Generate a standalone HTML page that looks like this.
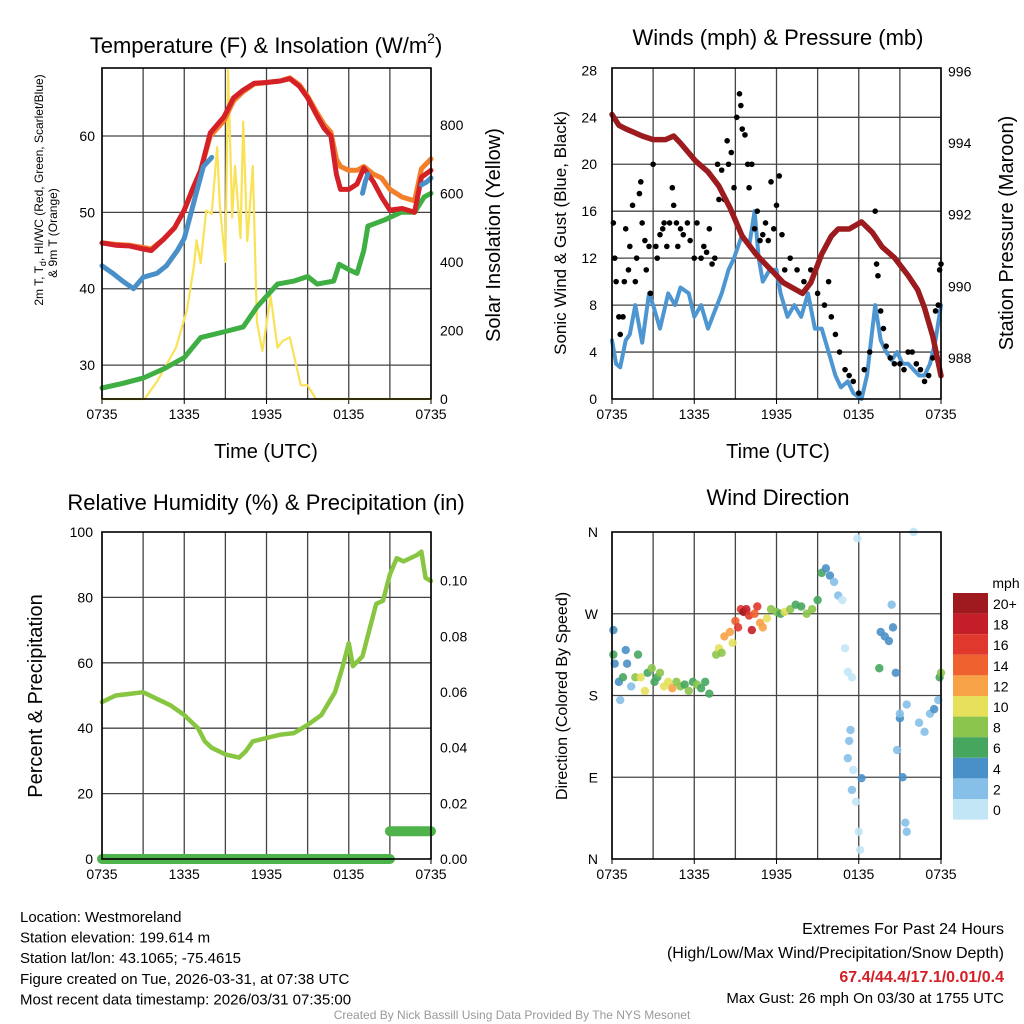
<!DOCTYPE html>
<html><head><meta charset="utf-8"><style>
body{margin:0;background:#fff;}
svg{display:block;font-family:"Liberation Sans",sans-serif;}
</style></head><body>
<svg id="c" width="1024" height="1024" viewBox="0 0 1024 1024"></svg>
<script>
// ---------- DATA ----------
const xTickLabels = ["0735","1335","1935","0135","0735"];
// Panel 1 (hours since 0735, values)
const tempH = [0,1,2,3,3.6,4.5,5.3,6,6.6,7.2,7.9,8.9,9.6,10.3,11.1,12,13,13.7,14.4,15,15.7,16.2,16.7,17.1,17.4,18,18.6,19.1,19.8,20.4,21,21.9,22.8,23.3,24];
const tempRed = [46,45.7,45.6,45.2,45,46.5,48,50.3,53,55.5,60.4,62.5,65,66,66.9,67,67.2,67.5,66.5,65,62.6,61,60,55,53,53,53.7,55.8,54,52,50.3,50.5,50,54.6,55.5];
const temp9m = [46,45.8,45.7,45.4,45.2,46.5,48,50.3,53,55.5,60,62,64.6,65.8,66.8,67,67.2,67.6,66.7,65.2,63,61.5,60.5,57,56,55.5,55.5,56,55,54.5,53,52,51.5,55.7,57];
const hiH = [0,0.8,1.5,2.3,3,4,4.7,5.5,6,6.9,7.4,8,null,19,19.2,19.4,null,23.3,23.7,24];
const hiVal = [43,42,41,40,41.5,42,43,45,46.6,52.7,56,57.2,null,52.5,54,55,null,53.6,54,54.5];
const dewH = [0,1.5,3,4.5,6,7.2,9,10.3,11.3,12.8,14,15,15.7,16.9,17.3,18,18.6,19.1,19.4,20.6,21.8,22.8,23.5,24];
const dewVal = [27,27.6,28.3,29.5,31,33.6,34.4,35,37.6,40.6,41,41.6,40.6,41,43.2,42.5,42,45,48.2,49,50,50,52,52.5];
const solH = [0,3.1,4,5.4,6.2,6.7,6.9,7.2,7.6,8.0,8.4,8.6,9.0,9.2,9.5,9.7,10.1,10.3,10.6,11.0,11.3,11.7,12.3,12.8,13.2,13.7,14.5,15,15.6,24];
const solVal = [0,0,50,150,260,385,463,397,550,540,735,560,400,960,530,680,470,810,460,680,225,140,300,150,170,180,40,40,0,0];
// Panel 2
const windH = [0,0.3,0.6,1,1.3,1.7,2.2,2.7,3,3.5,4.1,4.6,5,5.6,6,6.5,7,7.5,8,8.5,8.9,9.5,10,10.4,10.7,11,11.5,12,12.3,12.8,13.3,13.8,14.3,14.8,15.3,15.8,16.3,16.7,17.2,17.6,18.2,18.6,19.2,19.6,20,20.4,20.8,21.2,21.6,22,22.4,22.8,23.2,23.6,24];
const windVal = [5,3,2.7,5,5.5,8,4.8,9,8,6,9,8,9.5,9,7,8,6,7.5,9,11,12,14,13,16,12,10,11,11,9,7,8,7,9,6,6,4,2,1,1.5,0.5,0,2,8,5,4,3.3,4,3,3,2.5,2,2,3,5,8];
const presH = [0,0.5,1,2.2,3,3.9,4.5,5,6.1,7,7.8,8.6,9.5,10.5,11.5,12.5,13.9,14.5,15.3,16,16.5,17.3,18.2,19,19.7,20.6,21.6,22.3,22.8,23.4,24];
const presVal = [994.8,994.5,994.4,994.2,994.1,994.1,994.2,994.0,993.5,993.2,992.8,992.2,991.4,990.9,990.5,990.1,989.8,990.1,990.9,991.4,991.6,991.6,991.8,991.5,991.1,990.8,990.3,989.9,989.4,988.6,987.5];
const gustH = [0.1,0.2,0.3,0.5,0.6,0.8,0.9,1.0,1.2,1.3,1.5,1.7,1.8,2.0,2.1,2.2,2.4,2.5,2.7,2.8,3.0,3.2,3.3,3.5,3.7,3.8,4.0,4.2,4.4,4.5,4.7,4.8,5.0,5.2,5.5,5.7,6.0,6.2,6.5,6.7,6.9,7.1,7.3,7.5,7.7,7.8,8.0,8.2,8.4,8.5,8.7,8.9,9.1,9.3,9.4,9.5,9.7,9.9,10.0,10.2,10.4,10.6,10.8,11.0,11.2,11.4,11.6,11.8,12.0,12.2,12.4,12.6,13.0,13.5,14.0,14.5,15.0,15.5,15.8,16.0,16.3,16.6,17.0,17.3,17.6,18.0,18.4,18.8,19.2,19.3,19.4,19.6,19.8,20.0,20.3,20.6,21.0,21.3,21.6,21.9,22.2,22.5,22.8,23.1,23.4,23.6,23.8,23.9,24.0];
const gustVal = [15,12,10,7,5.5,7,10,14.5,11,13,16.5,10,12,17.5,18.5,15,13.5,11,13,9,20,13,12,14,14.5,15,13,15,18,16.5,15,13,14.5,14,15,13.5,12,15,12,13,12.5,14.5,11.5,12,20,17,19.5,17,22,20,21,18,24,26,25,23,22.5,20,18,20,14.5,16,13.5,14,15,13.5,18.5,14.5,16.5,19,14,11,12,11,10,11,9,8,10,7,5.5,4,2.5,2,1.5,0.5,2.5,4,16,11.5,10.5,7.5,6,4.5,3.5,3,3,2.5,4,4,3,2.5,1.5,2,3.5,7.5,8,11,11.5];
// Panel 3
const rhH = [0,1,2,3,4,5,6,7,7.5,8,9,10,10.5,11,12,13,14,15,16,17,17.5,18,18.3,19,19.5,20,20.5,21,21.5,22,23,23.3,23.6,24];
const rhVal = [48,50,50.5,51,49,47,44,40,36,34,32,31,33,36,37,38,38.5,41,44,51,58,66,59,62,70,78,79,87,92,91,93,94,86,85];
const precipH = [0,21,21,24];
const precipVal = [0,0,0.01,0.01];
// Panel 4
const dirH = [0.1,0.1,0.2,0.5,0.6,0.8,1.0,1.1,1.4,1.7,1.9,2.1,2.4,2.6,2.9,3.1,3.3,3.5,3.8,4.1,4.4,4.7,5.0,5.3,5.6,5.9,6.2,6.5,6.8,7.1,7.6,7.8,8.0,8.2,8.6,8.8,9.0,9.2,9.4,9.6,9.8,10.0,10.2,10.4,10.6,10.8,11.0,11.3,11.6,12.0,12.3,12.6,13.0,13.4,13.8,14.2,14.6,15.0,15.3,15.6,15.9,16.2,16.5,16.8,17.0,17.2,17.5,17.9,17.4,17.3,17.2,17.6,17.5,17.8,18.0,18.1,18.2,20.4,19.6,19.9,20.2,20.5,19.5,20.7,21.0,20.8,21.2,21.4,21.5,21.0,21.5,22.0,22.4,22.8,23.2,23.5,23.8,23.9,24.0,22.0];
const dirDeg = [252,225,215,195,175,200,230,215,190,200,225,200,185,205,210,195,200,205,190,195,188,195,190,192,185,195,192,188,195,182,225,232,227,245,250,238,262,255,275,272,275,268,252,270,278,260,255,265,275,272,270,272,275,280,278,270,275,285,315,320,312,305,290,285,232,206,200,353,142,130,111,98,76,63,30,10,89,280,250,245,240,255,210,205,155,120,90,40,30,160,170,360,150,140,160,165,175,200,205,360];
const dirSpd = [4,6,4,4,2,6,4,4,3,8,6,10,10,6,8,6,7,8,10,10,12,8,8,6,8,6,8,6,7,6,8,10,9,12,12,10,14,16,16,20,18,16,18,14,16,12,12,10,8,8,6,10,8,6,7,8,9,6,6,4,5,3,2,1,0,0,0,0,2,2,2,0,2,0,0,0,4,2,4,4,5,4,6,4,4,2,4,2,2,3,3,0,2,2,3,4,2,6,8,0];
const spdLabels = ["20+","18","16","14","12","10","8","6","4","2","0"];
const spdColors = ["#9e1a1f","#c41f28","#e0382c","#ef6230","#f7a246","#e6e05a","#8cc54d","#46a65e","#4a90c8","#86bfe8","#c3e6f7"];

// ---------- DRAW ----------
const svg = document.getElementById('c');
const NS = 'http://www.w3.org/2000/svg';
function mk(tag, attrs, parent){ const e=document.createElementNS(NS,tag); for(const k in attrs) e.setAttribute(k,attrs[k]); (parent||svg).appendChild(e); return e; }
function txt(s, x, y, size, anchor, extra){ const t=mk('text',Object.assign({x:x,y:y,'font-size':size,'text-anchor':anchor||'middle',fill:'#000'},extra||{})); t.textContent=s; return t; }

function panel(L,T,R,B){ return {L,T,R,B,x:h=>L+h*(R-L)/24}; }
function ax(lo,hi,T,B){ return v=>B-(v-lo)*(B-T)/(hi-lo); }

function frame(p, hTicks, yf, name){
  const g=mk('g',{});
  
  
  for(let i=0;i<=8;i++){ const x=p.L+i*(p.R-p.L)/8; mk('line',{x1:x,x2:x,y1:p.T,y2:p.B,stroke:'#444','stroke-width':1.3},g); }
  hTicks.forEach(v=>{ const y=yf(v); mk('line',{x1:p.L,x2:p.R,y1:y,y2:y,stroke:'#444','stroke-width':1.3},g); });
  xTickLabels.forEach((s,i)=>{ const x=p.L+i*(p.R-p.L)/4; const t=txt(s,x,p.B+20,14);   mk('line',{x1:x,x2:x,y1:p.B,y2:p.B+5,stroke:'#000'},g); });
}
function border(p,name){ const r=mk('rect',{x:p.L,y:p.T,width:p.R-p.L,height:p.B-p.T,fill:'none',stroke:'#000','stroke-width':1.6});   }
function line(p,xs,ys,yf,color,w,name){
  let d='',pen=false;
  xs.forEach((h,i)=>{ if(h===null||ys[i]===null){pen=false;return;} d+=(pen?'L':'M')+p.x(h).toFixed(1)+','+yf(ys[i]).toFixed(1); pen=true; });
  const e=mk('path',{d:d,fill:'none',stroke:color,'stroke-width':w,'stroke-linejoin':'round','stroke-linecap':'round'});
  
  
}
function yTicks(vals, yf, x, anchor, fmt){ vals.forEach(v=>{ const t=txt(fmt?fmt(v):String(v), x, yf(v)+5, 14, anchor);   }); }
function rot(s,x,y,size,name){ const t=txt(s,0,0,size,'middle',{transform:`translate(${x},${y}) rotate(-90)`});   return t; }

// Panel 1
const p1=panel(102,68,431,399);
const yT=ax(25.56,68.9,68,399), yS=ax(0,966,68,399);
frame(p1,[30,40,50,60],yT,'temperature');
line(p1,solH,solVal,yS,'#f9e256',2.2,'insolation-line');
line(p1,dewH,dewVal,yT,'#3fae43',5,'dewpoint-line');
line(p1,tempH,temp9m,yT,'#f47f2a',5,'temp-9m-line');
line(p1,tempH,tempRed,yT,'#d42027',5,'temp-2m-line');
line(p1,hiH,hiVal,yT,'#4a90c8',5,'heat-index-line');
border(p1,'temperature');
yTicks([30,40,50,60],yT,95,'end');
yTicks([0,200,400,600,800],yS,440,'start');
let t=txt('',266,53,22);  
t.innerHTML='Temperature (F) &amp; Insolation (W/m<tspan font-size="14" dy="-10">2</tspan><tspan dy="10">)</tspan>';
rot('2m T, T',43,190,12,'temperature-y-title').innerHTML='2m T, T<tspan font-size="9" dy="3">d</tspan><tspan dy="-3">, HI/WC (Red, Green, Scarlet/Blue)</tspan>';
rot('& 9m T (Orange)',57,233,12,'temperature-y-title-2');
rot('Solar Insolation (Yellow)',500,235,20,'insolation-y-title');
t=txt('Time (UTC)',266,458,20);  

// Panel 2
const p2=panel(612,68,941,399);
const yW=ax(0,28.2,68,399), yP=ax(986.85,996.1,68,399);
frame(p2,[4,8,12,16,20,24],yW,'winds');
line(p2,windH,windVal,yW,'#4d96d1',4,'wind-line');
gustH.forEach((h,i)=>{ const c=mk('circle',{cx:p2.x(h),cy:yW(gustVal[i]),r:2.8,fill:'#000'});   });
line(p2,presH,presVal,yP,'#9b1b1e',5.5,'pressure-line');
border(p2,'winds');
yTicks([0,4,8,12,16,20,24,28],yW,597,'end');
yTicks([988,990,992,994,996],yP,948,'start');
t=txt('Winds (mph) & Pressure (mb)',778,45,22);  
rot('Sonic Wind & Gust (Blue, Black)',566,233,17,'wind-y-title');
rot('Station Pressure (Maroon)',1013,233,20,'pressure-y-title');
t=txt('Time (UTC)',778,458,20);  

// Panel 3
const p3=panel(102,532,431,859);
const yR=ax(0,100,532,859), yPr=ax(0,0.1175,532,859);
frame(p3,[20,40,60,80],yR,'humidity');
line(p3,rhH,rhVal,yR,'#88c540',4.5,'rh-line');
line(p3,precipH.slice(0,2),precipVal.slice(0,2),yPr,'#4db34a',10,'precip-line-a');
line(p3,precipH.slice(2),precipVal.slice(2),yPr,'#4db34a',10,'precip-line-b');
border(p3,'humidity');
yTicks([0,20,40,60,80,100],yR,93,'end');
yTicks([0,0.02,0.04,0.06,0.08,0.1],yPr,440,'start',v=>v.toFixed(2));
t=txt('Relative Humidity (%) & Precipitation (in)',266,510,22);  
rot('Percent & Precipitation',42,696,20,'humidity-y-title');

// Panel 4
const p4=panel(612,532,941,859);
const yD=ax(0,360,532,859);
frame(p4,[90,180,270],yD,'direction');
function spdColor(s){ const idx=Math.max(0,Math.min(10,10-Math.floor(s/2))); return spdColors[idx]; }
dirH.forEach((h,i)=>{ const c=mk('circle',{cx:p4.x(h),cy:yD(dirDeg[i]),r:4.2,fill:spdColor(dirSpd[i]),'fill-opacity':0.9});   });
border(p4,'direction');
['N','E','S','W','N'].forEach((s,i)=>{ const tt=txt(s,598,yD(i*90)+5,14,'end');   });
t=txt('Wind Direction',778,505,22);  
rot('Direction (Colored By Speed)',567,696,16,'direction-y-title');
// colorbar
t=txt('mph',1006,588,14);  
spdLabels.forEach((s,i)=>{ const y=593+i*20.6; const r=mk('rect',{x:953,y:y,width:35,height:20.6,fill:spdColors[i]});   const l=txt(s,993,y+16,14,'start');   });

// Footer
["Location: Westmoreland","Station elevation: 199.614 m","Station lat/lon: 43.1065; -75.4615","Figure created on Tue, 2026-03-31, at 07:38 UTC","Most recent data timestamp: 2026/03/31 07:35:00"].forEach((s,i)=>{ const f=txt(s,20,922+i*20.6,15,'start');   });
t=txt('Extremes For Past 24 Hours',1004,934,16,'end');  
t=txt('(High/Low/Max Wind/Precipitation/Snow Depth)',1004,958,16,'end');  
t=txt('67.4/44.4/17.1/0.01/0.4',1004,982,16,'end',{fill:'#d42027','font-weight':'bold'});  
t=txt('Max Gust: 26 mph On 03/30 at 1755 UTC',1004,1003,15,'end');  
t=txt('Created By Nick Bassill Using Data Provided By The NYS Mesonet',512,1019,12,'middle',{fill:'#999'});  
</script>
</body></html>
